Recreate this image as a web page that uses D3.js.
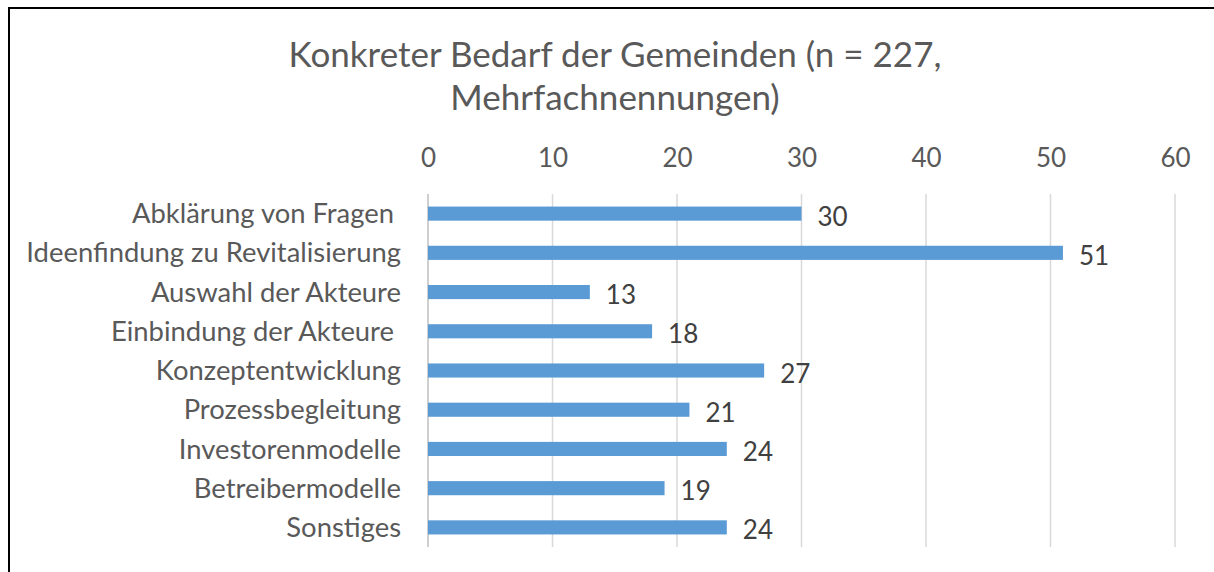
<!DOCTYPE html>
<html>
<head>
<meta charset="utf-8">
<script src="https://cdn.jsdelivr.net/npm/d3@7"></script>
<style>
  body { margin: 0; background: #fff; }
  text { font-family: Lato, "Open Sans", sans-serif; fill: #595959; }
</style>
</head>
<body>
<svg></svg>
<script>
// chart data
const categories = ["Abklärung von Fragen ", "Ideenfindung zu Revitalisierung", "Auswahl der Akteure", "Einbindung der Akteure ",
  "Konzeptentwicklung", "Prozessbegleitung", "Investorenmodelle", "Betreibermodelle", "Sonstiges"];
const values = [30, 51, 13, 18, 27, 21, 24, 19, 24];
const ticks = [0, 10, 20, 30, 40, 50, 60];
const titleLines = ["Konkreter Bedarf der Gemeinden (n = 227,", "Mehrfachnennungen)"];

const width = 1214;
const height = 572;
const svg = d3.select("svg").attr("width", width).attr("height", height);

// outer frame (left and top edges visible)
svg.append("line").attr("x1", 9).attr("y1", 8).attr("x2", width).attr("y2", 8).attr("stroke", "#000").attr("stroke-width", 2);
svg.append("line").attr("x1", 9).attr("y1", 7).attr("x2", 9).attr("y2", height).attr("stroke", "#000").attr("stroke-width", 2);

// title
svg.append("g").selectAll("text").data(titleLines).enter().append("text")
  .attr("x", 615).attr("y", (d, i) => 55 + i * 43).attr("dy", "0.35em")
  .attr("text-anchor", "middle").style("font-size", "35px")
  .text(d => d);

const xScale = d3.scaleLinear().domain([0, 60]).range([428, 1175]);
const yScale = d3.scaleBand().domain(categories).range([194, 547]).paddingInner(0.64).paddingOuter(0.32);

// gridlines
svg.append("g").selectAll("line").data(ticks).enter().append("line")
  .attr("x1", d => xScale(d)).attr("x2", d => xScale(d))
  .attr("y1", 194).attr("y2", 547)
  .attr("stroke", d => d === 0 ? "#bfbfbf" : "#d9d9d9").attr("stroke-width", 1.5);

// top axis labels
const xAxis = d3.axisTop(xScale).tickValues(ticks).tickSize(0).tickPadding(0);
const gx = svg.append("g").attr("transform", "translate(0, 158)").call(xAxis);
gx.select(".domain").remove();
gx.selectAll("text").style("font-size", "26px").attr("fill", "#595959").attr("dy", "0.35em");

// category labels
const yAxis = d3.axisLeft(yScale).tickSize(0).tickPadding(0);
const gy = svg.append("g").attr("transform", "translate(401, 0)").call(yAxis);
gy.select(".domain").remove();
gy.selectAll("text").style("font-size", "27.4px").attr("fill", "#595959").attr("dy", "0.35em")
  .style("white-space", "pre");

// bars
svg.append("g").selectAll("rect").data(values).enter().append("rect")
  .attr("x", xScale(0))
  .attr("y", (d, i) => yScale(categories[i]))
  .attr("width", d => xScale(d) - xScale(0))
  .attr("height", yScale.bandwidth())
  .attr("fill", "#5b9bd5");

// value labels
svg.append("g").selectAll("text").data(values).enter().append("text")
  .attr("x", d => xScale(d) + 16)
  .attr("y", (d, i) => yScale(categories[i]) + yScale.bandwidth() / 2 + 3)
  .attr("dy", "0.35em")
  .style("font-size", "26px")
  .style("fill", "#404040")
  .text(d => d);
</script>
</body>
</html>
